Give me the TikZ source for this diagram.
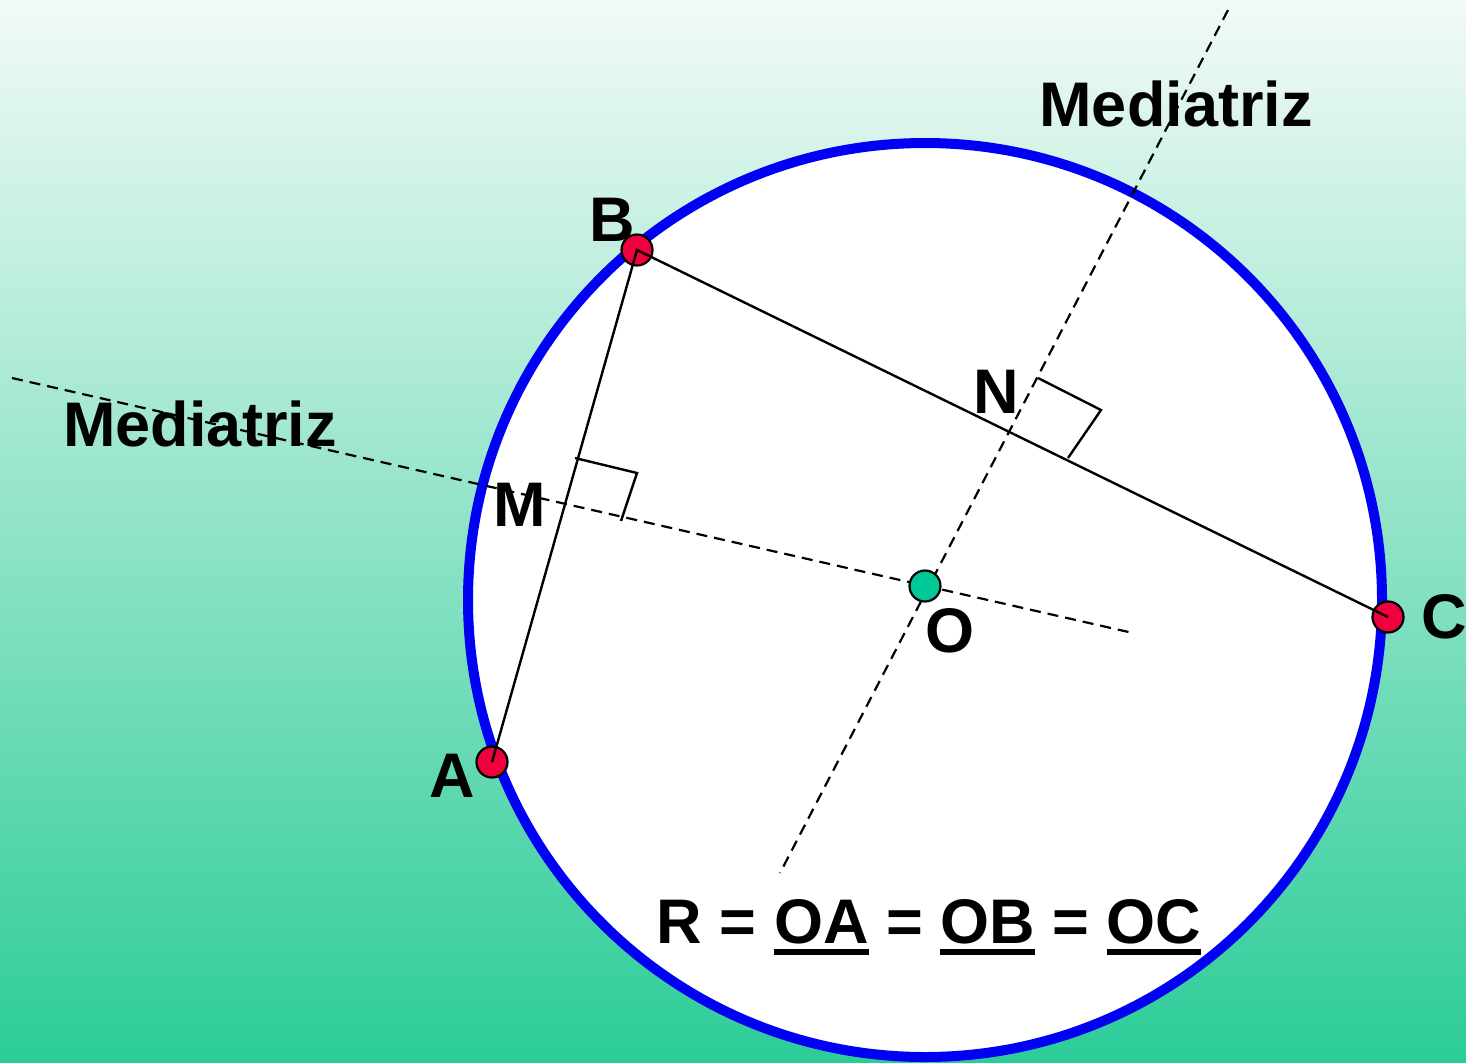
\documentclass[tikz,border=0pt]{standalone}
\usepackage{fontspec}
\setmainfont{Liberation Sans}
\definecolor{bgtop}{RGB}{242,250,246}
\definecolor{bgbot}{RGB}{44,204,152}
\definecolor{ptred}{RGB}{240,0,60}
\definecolor{ptgreen}{RGB}{0,200,150}
\definecolor{ringblue}{RGB}{0,0,245}
\newcommand\myul[1]{\setbox0\hbox{#1}\rlap{\rule[-6pt]{\wd0}{3pt}}\box0\relax}
\begin{document}
\begin{tikzpicture}[x=0.5pt,y=-0.5pt,
  lbl/.style={font=\bfseries\fontsize{31.5}{36}\selectfont, inner sep=0pt},
  dot/.style={circle, draw=black, line width=1.1pt, minimum size=15.5pt, inner sep=0pt},
  reddot/.style={dot, fill=ptred},
  greendot/.style={dot, fill=ptgreen},
  mediatrix/.style={draw=black, line width=1.1pt, dash pattern=on 5.5pt off 3.5pt},
  segment/.style={draw=black, line width=1.2pt},
  rightmark/.style={draw=black, line width=1.2pt}]
\useasboundingbox (0,0) rectangle (1466,1062);
\shade[top color=bgtop, bottom color=bgbot] (0,0) rectangle (1466,1062);
% circumcircle
\node[circle, draw=ringblue, line width=5pt, fill=white, minimum size=457pt, inner sep=0pt] (ring) at (925,600) {};
% perpendicular bisectors
\coordinate (L1a) at (12,378);
\coordinate (L1b) at (1133,633);
\coordinate (L2a) at (1228,10);
\coordinate (L2b) at (780,873);
\draw[mediatrix] (L1a) -- (L1b);
\draw[mediatrix] (L2a) -- (L2b);
% right-angle marks
\draw[rightmark] (575,458) -- (637,473) -- (621,521);
\draw[rightmark] (1038,378) -- (1101,410) -- (1068,458);
% points
\node[reddot] (A) at (492,762) {};
\node[reddot] (B) at (637,250) {};
\node[reddot] (C) at (1388,617) {};
\node[greendot] (O) at (925,586) {};
% chords
\draw[segment] (A.center) -- (B.center) -- (C.center);
% labels
\node[lbl] (lA) at (452,776) {A};
\node[lbl] (lB) at (612,220) {B};
\node[lbl] (lC) at (1444,617) {C};
\node[lbl] (lO) at (950,631) {O};
\node[lbl] (lM) at (520,505) {M};
\node[lbl] (lN) at (996,392) {N};
\node[lbl] (med1) at (1176,104) {Mediatriz};
\node[lbl] (med2) at (200,424) {Mediatriz};
\node[lbl, anchor=base] (formula) at (929,943) {R = \myul{OA} = \myul{OB} = \myul{OC}};
\end{tikzpicture}
\end{document}
